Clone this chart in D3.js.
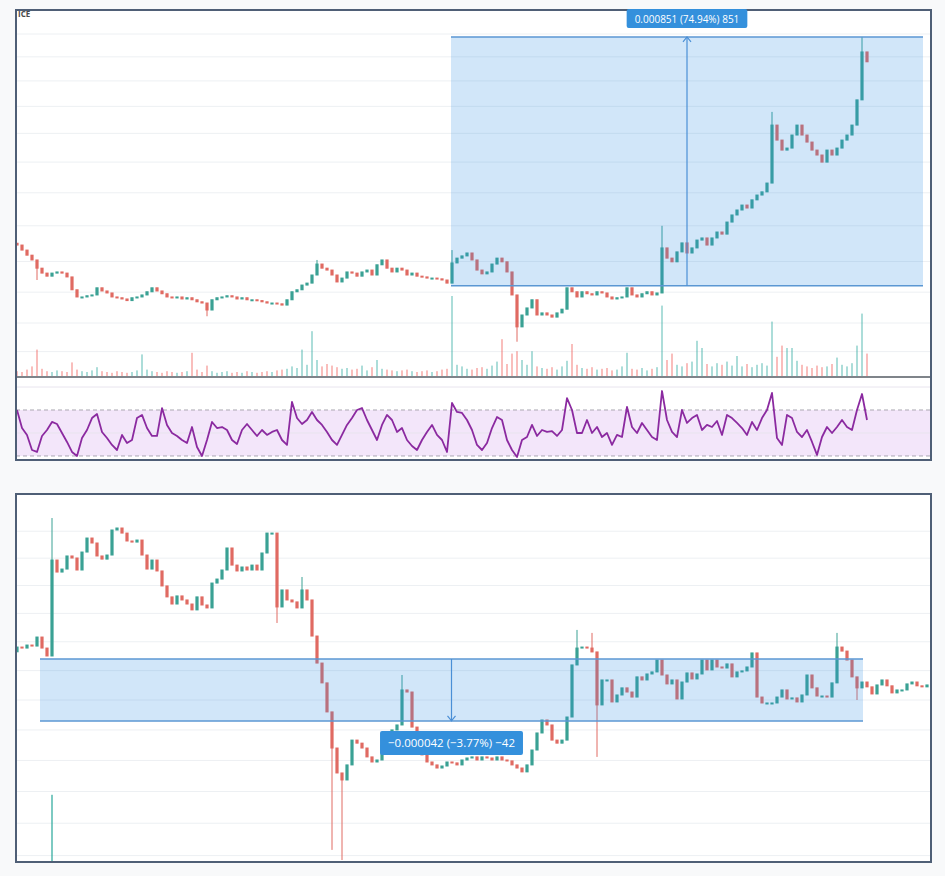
<!DOCTYPE html>
<html><head><meta charset="utf-8">
<script src="https://cdn.jsdelivr.net/npm/d3@7"></script>
<style>body{margin:0;background:#f8f9fa;} svg{display:block;}</style>
</head><body><svg id="c" width="945" height="876"></svg>
<script>
// ---------------- DATA (prices in units of 1e-6) ----------------
const topClose = [1245,1231,1217,1204,1182,1169,1161,1169,1172,1169,1159,
1126,1108,1108,1111,1113,1131,1123,1118,1108,1106,1103,
1099,1106,1108,1113,1121,1131,1123,1116,1108,1106,1108,
1103,1106,1101,1096,1093,1076,1101,1106,1108,1111,1108,
1103,1106,1101,1101,1099,1096,1093,1093,1091,1088,1101,
1121,1126,1138,1143,1164,1193,1182,1177,1164,1146,1156,
1172,1169,1161,1172,1177,1164,1191,1204,1182,1172,1182,
1177,1164,1169,1161,1159,1156,1156,1154,1151,1143,1196,
1209,1215,1223,1204,1177,1167,1172,1193,1209,1199,1172,
1113,1036,1064,1081,1101,1064,1069,1064,1059,1069,1078,
1131,1121,1108,1121,1116,1113,1121,1118,1108,1103,1106,
1108,1131,1113,1108,1116,1121,1113,1118,1237,1209,1199,
1226,1251,1223,1237,1259,1265,1245,1265,1282,1276,1311,
1332,1347,1362,1353,1378,1393,1403,1431,1630,1576,1541,
1548,1594,1630,1594,1569,1541,1524,1500,1541,1524,1548,
1576,1594,1630,1725,1921,1879];
const topFirstOpen = 1250;
const topSpikeIdx = [4,38,60,87,100,129,151,169];
const topSpikeVal = [1151,1061,1204,1231,1002,1300,1679,1987];
const topVolume = [6,5,8,12,33,9,6,5,7,6,5,
17,8,6,5,7,11,6,5,4,6,5,
4,5,7,27,8,6,5,4,6,5,4,
5,6,29,8,5,13,6,4,5,6,4,
5,4,6,5,4,5,6,5,7,8,9,
12,10,33,14,56,20,12,15,13,11,9,
10,8,9,13,7,11,20,9,8,7,6,
7,8,6,5,6,7,5,6,8,9,100,
14,12,9,8,10,11,9,13,18,46,15,
28,31,20,14,31,12,10,9,11,8,12,
19,40,14,10,9,11,8,9,10,7,8,
12,29,9,8,10,7,9,11,88,20,28,
14,12,16,18,44,35,15,12,16,14,18,
13,25,12,15,11,14,16,13,68,24,38,
35,35,19,14,12,10,13,11,12,15,23,
14,12,16,38,78,28];
const topRsi = [70,54.3,48.3,35.2,33.5,47.4,52.6,59.6,57.8,50,42.2,
33.5,30,45.6,52.6,63,66.5,50.9,45.6,39.6,35.2,48.3,
41.3,43.9,63,65.7,54.3,47.4,47.4,71.7,57,50,47.4,
43.9,41.3,55.2,37.8,30,43.9,59.6,54.3,55.2,52.6,43.9,
40.4,52.6,57.8,52.6,47.4,52.6,48.3,50.9,52.6,43.9,39.6,
77,63,57.8,61.3,68.3,61.3,57,50.9,43.9,39.6,48.3,
57,63,70,71.7,61.3,52.6,43.9,57,65.7,61.3,50.9,
54.3,43.9,38.7,35.2,43.9,50.9,57,48.3,43.9,33.5,76.1,
68.3,67.4,61.3,52.6,39.6,35.2,41.3,54.3,63.9,61.3,43.9,
35.2,29.1,43.9,46.5,57,47.4,52.6,50.9,51.7,47.4,52.6,
80.4,70,50,50,61.3,50,55.2,46.5,50,39.6,48.3,
46.5,72.6,55.2,50,58.7,52.6,46.5,43.9,86.5,61.3,50.9,
46.5,70,58.7,63,65.7,52.6,57,55.2,60.4,48.3,65.7,
63,58.7,54.3,48.3,59.6,52.6,63,70,84.8,45.6,39.6,
65.7,63,50.9,46.5,52.6,42.2,30.9,46.5,55.2,50,55.2,
61.3,55.2,52.6,70,83.9,61.3];
const topGridTicks = [2000,1900,1800,1700,1600,1500,1400,1300,1200,1120,1045,980];
const rsiBandLevels = [70, 30];
const rsiGridLevels = [90, 50];
const topMeasureIdx = [86.8, 181.2];
const topMeasurePrice = [1136, 1987];
const topMeasureLabel = "0.000851 (74.94%) 851";

const botClose = [1122.3,1121.6,1123.7,1123.0,1129.3,1121.6,1116.1,1184.6,1175.8,1178.0,
1187.6,1186.1,1177.3,1190.5,1200.9,1197.2,1187.6,1185.3,1188.3,1206.9,
1208.4,1204.6,1198.7,1197.9,1199.4,1188.3,1178.0,1184.6,1176.6,1165.7,
1157.8,1152.7,1158.5,1155.6,1152.7,1148.5,1157.8,1152.0,1149.9,1167.8,
1170.7,1177.3,1193.5,1180.9,1176.6,1179.5,1177.3,1180.9,1177.3,1189.8,
1204.6,1204.6,1150.6,1162.8,1155.6,1154.2,1149.9,1162.8,1155.6,1130.0,
1111.2,1097.6,1078.0,1054.1,1037.9,1033.4,1043.1,1059.3,1057.3,1054.1,
1048.3,1045.0,1046.3,1056.1,1062.6,1066.0,1069.3,1092.8,1091.4,1067.9,
1056.1,1049.6,1045.0,1043.1,1041.1,1042.4,1045.0,1044.4,1043.1,1046.3,
1047.6,1048.3,1046.3,1048.3,1047.6,1046.3,1048.3,1046.3,1045.7,1043.1,
1041.1,1038.6,1043.1,1052.8,1064.0,1072.6,1069.3,1059.3,1057.3,1059.3,
1074.6,1109.9,1121.6,1122.3,1121.6,1118.9,1082.7,1099.6,1099.6,1084.7,
1089.4,1094.2,1091.4,1088.0,1101.7,1099.6,1103.7,1105.1,1113.3,1103.0,
1096.9,1099.6,1086.7,1098.2,1104.4,1100.3,1103.7,1113.3,1106.5,1113.3,
1108.5,1107.8,1110.6,1101.7,1105.1,1105.8,1108.5,1118.2,1088.0,1084.0,
1084.0,1084.0,1088.0,1092.8,1086.7,1087.4,1084.7,1089.4,1103.0,1094.2,
1088.7,1088.7,1088.0,1097.6,1122.3,1119.5,1113.3,1101.7,1094.2,1098.2,
1094.9,1090.1,1096.2,1099.6,1095.6,1090.8,1092.8,1092.8,1096.9,1098.2,
1095.6,1094.9,1096.2];
const botFirstOpen = 1119;
const botSpikeIdx = [7,52,57,63,65,77,112,115,116,164,168];
const botSpikeVal = [1215.9,1139.2,1172.2,989.5,983.3,1103.0,1134.3,1132.2,1048.3,1132.2,1086.0];
const botVolIdx = [7];
const botVolVal = [84];
const botGridTicks = [1206,1186,1166,1146,1126,1106,1086,1066,1046,1026,1006,986];
const botMeasureIdx = [4.6, 169.2];
const botMeasurePrice = [1114, 1072];
const botMeasureLabel = "\u22120.000042 (\u22123.77%) \u221242";

// ---------------- LAYOUT ----------------
const svg = d3.select("#c");
const UP = "#3aa194", DOWN = "#e06a62";
const P1 = {x0:16, x1:931, y0:10, yMain:377, y1:460};
const P2 = {x0:16, x1:931, y0:494, y1:862};

const x = d3.scaleLinear().domain([-0.2, 182.8]).range([P1.x0, P1.x1]);
const yTop = d3.scaleLog().domain([984, 1986.6]).range([349.8, 37]);
const yVol = d3.scaleLinear().domain([0, 100]).range([376, 296]);
const yRsi = d3.scaleLinear().domain([26.5, 98.7]).range([P1.y1, P1.yMain]);
const yBot = d3.scaleLog().domain([983.3, 1229.6]).range([860, 500]);
const yBotVol = d3.scaleLinear().domain([0, 100]).range([P2.y1, P2.y1 - 80]);

function candles(close, firstOpen, spikeIdx, spikeVal){
  return close.map((c,i)=>{
    const o = i===0 ? firstOpen : close[i-1];
    let h = Math.max(o,c), l = Math.min(o,c);
    const k = spikeIdx.indexOf(i);
    if (k>=0){ if (spikeVal[k] > h) h = spikeVal[k]; else if (spikeVal[k] < l) l = spikeVal[k]; }
    return {i, o, c, h, l, up: c>=o};
  });
}
const topC = candles(topClose, topFirstOpen, topSpikeIdx, topSpikeVal);
const botC = candles(botClose, botFirstOpen, botSpikeIdx, botSpikeVal);

const defs = svg.append("defs");
function clip(id, x0, y0, x1, y1){
  defs.append("clipPath").attr("id", id).append("rect")
    .attr("x", x0).attr("y", y0).attr("width", x1-x0).attr("height", y1-y0);
}
clip("cMain", P1.x0, P1.y0, P1.x1, P1.yMain);
clip("cRsi", P1.x0, P1.yMain, P1.x1, P1.y1);
clip("cBot", P2.x0, P2.y0, P2.x1, P2.y1);

svg.append("rect").attr("x",P1.x0).attr("y",P1.y0).attr("width",P1.x1-P1.x0).attr("height",P1.y1-P1.y0).attr("fill","#fff");
svg.append("rect").attr("x",P2.x0).attr("y",P2.y0).attr("width",P2.x1-P2.x0).attr("height",P2.y1-P2.y0).attr("fill","#fff");

// ---------- TOP MAIN PANE ----------
const gMain = svg.append("g").attr("clip-path","url(#cMain)");
gMain.selectAll("line.grid").data(topGridTicks).join("line")
  .attr("x1",P1.x0).attr("x2",P1.x1).attr("y1",d=>yTop(d)).attr("y2",d=>yTop(d))
  .attr("stroke","#edf0f3").attr("stroke-width",1);

const bw = 2;
gMain.selectAll("rect.vol").data(topC.filter(d=>d.i < topVolume.length)).join("rect")
  .attr("x", d=>x(d.i)-bw/2).attr("width", bw)
  .attr("y", d=>yVol(topVolume[d.i])).attr("height", d=>yVol(0)-yVol(topVolume[d.i]))
  .attr("fill", d=> d.up ? "rgba(38,166,154,0.38)" : "rgba(239,83,80,0.38)");

function drawCandles(g, data, y){
  g.selectAll("line.wick").data(data).join("line")
    .attr("x1", d=>x(d.i)).attr("x2", d=>x(d.i))
    .attr("y1", d=>y(d.h)).attr("y2", d=>y(d.l))
    .attr("stroke", d=>d.up?UP:DOWN).attr("stroke-width",1);
  g.selectAll("rect.body").data(data).join("rect")
    .attr("x", d=>x(d.i)-1.6).attr("width", 3.2)
    .attr("y", d=>Math.min(y(d.o), y(d.c)) - 0.5)
    .attr("height", d=>Math.max(2, Math.abs(y(d.o)-y(d.c)) + 1))
    .attr("fill", d=>d.up?UP:DOWN);
}
drawCandles(gMain.append("g"), topC, yTop);

function measure(g, idx, price, y){
  const xa = x(idx[0]), xb = x(idx[1]);
  const ya = y(price[0]), yb = y(price[1]);
  const yt = Math.min(ya,yb), ybm = Math.max(ya,yb);
  g.append("rect").attr("x",xa).attr("y",yt).attr("width",xb-xa).attr("height",ybm-yt)
    .attr("fill","#2f8ee5").attr("fill-opacity",0.22);
  [yt, ybm].forEach(yy=> g.append("line").attr("x1",xa).attr("x2",xb).attr("y1",yy).attr("y2",yy)
    .attr("stroke","#5b97d3").attr("stroke-width",1.5));
  const xm = (xa+xb)/2;
  g.append("line").attr("x1",xm).attr("x2",xm).attr("y1",ya).attr("y2",yb)
    .attr("stroke","#4a8fd6").attr("stroke-width",1.2);
  const dir = yb < ya ? 1 : -1;
  g.append("path").attr("d", `M${xm-4},${yb+dir*5}L${xm},${yb}L${xm+4},${yb+dir*5}`)
    .attr("fill","none").attr("stroke","#4a8fd6").attr("stroke-width",1.2);
  return {xm, yt, ybm};
}
const m1 = measure(svg.append("g").attr("clip-path","url(#cMain)"), topMeasureIdx, topMeasurePrice, yTop);

// ---------- RSI PANE ----------
const gR = svg.append("g").attr("clip-path","url(#cRsi)");
gR.append("rect").attr("x",P1.x0).attr("width",P1.x1-P1.x0)
  .attr("y", yRsi(rsiBandLevels[0])).attr("height", yRsi(rsiBandLevels[1]) - yRsi(rsiBandLevels[0]))
  .attr("fill","#f3e6fa");
gR.selectAll("line.rg").data(rsiGridLevels).join("line")
  .attr("x1",P1.x0).attr("x2",P1.x1).attr("y1",d=>yRsi(d)).attr("y2",d=>yRsi(d))
  .attr("stroke","#e8e4ee").attr("stroke-width",1);
gR.selectAll("line.rb").data(rsiBandLevels).join("line")
  .attr("x1",P1.x0).attr("x2",P1.x1).attr("y1",d=>yRsi(d)).attr("y2",d=>yRsi(d))
  .attr("stroke","#aaa7b2").attr("stroke-width",1).attr("stroke-dasharray","4,3");
gR.append("path").datum(topRsi)
  .attr("d", d3.line().x((d,i)=>x(i)).y(d=>yRsi(d)))
  .attr("fill","none").attr("stroke","#8b2aa0").attr("stroke-width",1.8).attr("stroke-linejoin","round");

svg.append("line").attr("x1",P1.x0).attr("x2",P1.x1).attr("y1",P1.yMain).attr("y2",P1.yMain)
  .attr("stroke","#555b63").attr("stroke-width",1.5);
svg.append("rect").attr("x",P1.x0).attr("y",P1.y0).attr("width",P1.x1-P1.x0).attr("height",P1.y1-P1.y0)
  .attr("fill","none").attr("stroke","#4f5f76").attr("stroke-width",2);

svg.append("text").attr("x",P1.x0+2).attr("y",P1.y0+7).text("ICE")
  .attr("font-family","Open Sans, sans-serif").attr("font-size",8).attr("font-weight","bold").attr("fill","#4a4a4a");

function labelBox(xm, yTopEdge, h, text, fs, pad){
  const g = svg.append("g");
  const t = g.append("text").attr("x",xm).attr("y",yTopEdge+h/2).attr("text-anchor","middle")
    .attr("dominant-baseline","central").attr("font-family","Open Sans, sans-serif")
    .attr("font-size",fs).attr("fill","#fff").text(text);
  const w = t.node().getComputedTextLength() + 2*pad;
  g.insert("rect","text").attr("x",xm-w/2).attr("y",yTopEdge).attr("width",w).attr("height",h)
    .attr("rx",2).attr("fill","#3490dc");
}
labelBox(m1.xm, 9, 19, topMeasureLabel, 10, 8);

// ---------- BOTTOM PANEL ----------
const gB = svg.append("g").attr("clip-path","url(#cBot)");
gB.selectAll("line.grid").data(botGridTicks).join("line")
  .attr("x1",P2.x0).attr("x2",P2.x1).attr("y1",d=>yBot(d)).attr("y2",d=>yBot(d))
  .attr("stroke","#edf0f3").attr("stroke-width",1);
gB.selectAll("rect.vol").data(botVolIdx).join("rect")
  .attr("x", (d)=>x(d)-1).attr("width", 2)
  .attr("y", (d,k)=>yBotVol(botVolVal[k])).attr("height", (d,k)=>yBotVol(0)-yBotVol(botVolVal[k]))
  .attr("fill","rgba(38,166,154,0.6)");
drawCandles(gB.append("g"), botC, yBot);
const m2 = measure(gB.append("g"), botMeasureIdx, botMeasurePrice, yBot);
svg.append("rect").attr("x",P2.x0).attr("y",P2.y0).attr("width",P2.x1-P2.x0).attr("height",P2.y1-P2.y0)
  .attr("fill","none").attr("stroke","#4f5f76").attr("stroke-width",2);
labelBox(m2.xm, m2.ybm + 10, 24, botMeasureLabel, 11.5, 8);
</script></body></html>
